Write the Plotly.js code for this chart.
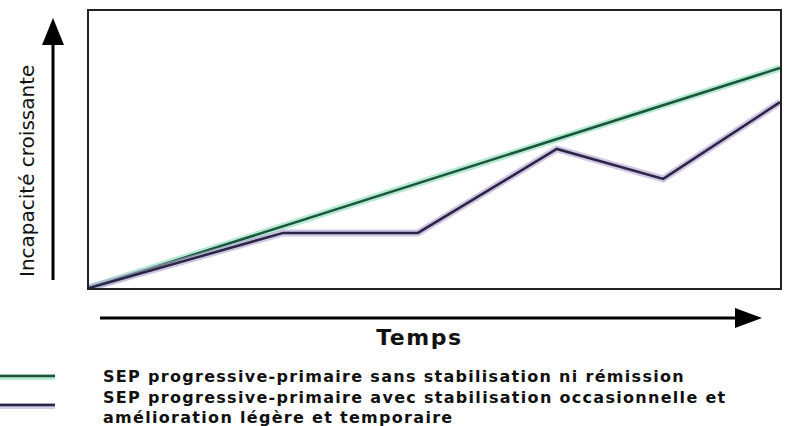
<!DOCTYPE html>
<html>
<head>
<meta charset="utf-8">
<script src="https://cdn.plot.ly/plotly-3.0.1.min.js"></script>
<style>html,body{margin:0;padding:0;background:#fff;}#chart{width:786px;height:426px;}</style>
</head>
<body>
<div id="chart"></div>
<script>
// Time (arbitrary units) and disability level (arbitrary units)
const timeGreen = [0, 10];
const disabilityGreen = [0, 7.94];
const timePurple = [0, 2.81, 4.76, 6.77, 8.31, 10];
const disabilityPurple = [0, 1.99, 1.99, 5.02, 3.94, 6.71];
const seriesNames = [
  "SEP progressive-primaire sans stabilisation ni rémission",
  "SEP progressive-primaire avec stabilisation occasionnelle et",
  "amélioration légère et temporaire"
];
const xTitle = "Temps";
const yTitle = "Incapacité croissante";

const W = 691, H = 277, L = 89, T = 11;
const px = v => (v - L) / W;
const py = v => (T + H - v) / H;

const traces = [
  {x: timeGreen, y: disabilityGreen, mode: "lines", line: {color: "rgba(120,215,180,0.55)", width: 7}, hoverinfo: "skip", showlegend: false},
  {x: timeGreen, y: disabilityGreen, mode: "lines", line: {color: "#1b5436", width: 2.5}, name: seriesNames[0], showlegend: false},
  {x: timePurple, y: disabilityPurple, mode: "lines", line: {color: "rgba(175,160,210,0.6)", width: 7}, hoverinfo: "skip", showlegend: false},
  {x: timePurple, y: disabilityPurple, mode: "lines", line: {color: "#2c2445", width: 2.5}, name: seriesNames[1] + " " + seriesNames[2], showlegend: false}
];

const font = "DejaVu Sans, Liberation Sans, Arial, sans-serif";
const legendFont = {family: font, size: 16, color: "#111"};
const layout = {
  width: 786, height: 426,
  margin: {l: L, r: 786 - L - W, t: T, b: 426 - T - H, pad: 0},
  paper_bgcolor: "#fff", plot_bgcolor: "#fff",
  showlegend: false,
  xaxis: {range: [0, 10], showgrid: false, zeroline: false, showticklabels: false, ticks: "",
          showline: true, mirror: true, linecolor: "#222", linewidth: 2},
  yaxis: {range: [0, 10], showgrid: false, zeroline: false, showticklabels: false, ticks: "",
          showline: true, mirror: true, linecolor: "#222", linewidth: 2},
  shapes: [
    {type: "line", xref: "paper", yref: "paper", x0: px(53), x1: px(53), y0: py(280), y1: py(40), line: {color: "#000", width: 3}},
    {type: "path", xref: "paper", yref: "paper",
     path: `M ${px(53)} ${py(18)} L ${px(42)} ${py(45)} L ${px(64)} ${py(45)} Z`, fillcolor: "#000", line: {width: 0}},
    {type: "line", xref: "paper", yref: "paper", x0: px(100), x1: px(740), y0: py(318), y1: py(318), line: {color: "#000", width: 3}},
    {type: "path", xref: "paper", yref: "paper",
     path: `M ${px(762)} ${py(318)} L ${px(735)} ${py(308)} L ${px(735)} ${py(328)} Z`, fillcolor: "#000", line: {width: 0}},
    {type: "line", xref: "paper", yref: "paper", x0: px(0), x1: px(55), y0: py(377), y1: py(377), line: {color: "rgba(120,215,180,0.5)", width: 6}},
    {type: "line", xref: "paper", yref: "paper", x0: px(0), x1: px(55), y0: py(376), y1: py(376), line: {color: "#1b5436", width: 2.5}},
    {type: "line", xref: "paper", yref: "paper", x0: px(0), x1: px(55), y0: py(406), y1: py(406), line: {color: "rgba(175,160,210,0.55)", width: 6}},
    {type: "line", xref: "paper", yref: "paper", x0: px(0), x1: px(55), y0: py(405), y1: py(405), line: {color: "#2c2445", width: 2.5}}
  ],
  annotations: [
    {text: yTitle, xref: "paper", yref: "paper", x: px(27), y: py(171), textangle: -90, showarrow: false,
     xanchor: "center", yanchor: "middle", font: {family: font, size: 20, color: "#111"}},
    {text: "<b>" + xTitle + "</b>", xref: "paper", yref: "paper", x: px(419), y: py(337), showarrow: false,
     xanchor: "center", yanchor: "middle", font: {family: font, size: 22, color: "#111"}},
    {text: "<b>" + seriesNames[0] + "</b>", xref: "paper", yref: "paper", x: px(101), y: py(376), showarrow: false,
     xanchor: "left", yanchor: "middle", align: "left", font: legendFont},
    {text: "<b>" + seriesNames[1] + "</b>", xref: "paper", yref: "paper", x: px(101), y: py(398), showarrow: false,
     xanchor: "left", yanchor: "middle", align: "left", font: legendFont},
    {text: "<b>" + seriesNames[2] + "</b>", xref: "paper", yref: "paper", x: px(101), y: py(417), showarrow: false,
     xanchor: "left", yanchor: "middle", align: "left", font: legendFont}
  ]
};

Plotly.newPlot("chart", traces, layout, {displayModeBar: false, staticPlot: true}).then(gd => {
  const texts = gd.querySelectorAll(".annotation-text");
  if (texts[1]) texts[1].style.letterSpacing = "1.5px";
  for (let i = 2; i < texts.length; i++) texts[i].style.letterSpacing = "1.3px";
});
</script>
</body>
</html>
